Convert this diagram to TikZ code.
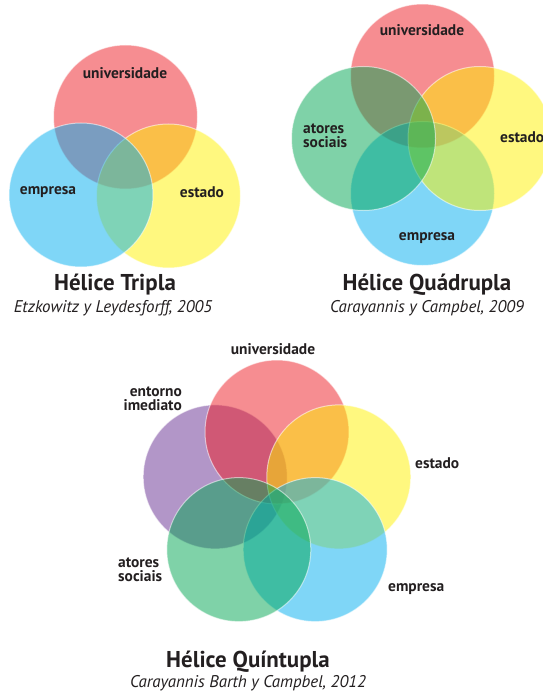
\documentclass[tikz,border=0pt]{standalone}
\usepackage{fontspec}
\setmainfont{PT Sans}
\definecolor{cred}{HTML}{ED1C24}
\definecolor{cyel}{HTML}{FFF200}
\definecolor{cblu}{HTML}{00AEEF}
\definecolor{cgrn}{HTML}{00A651}
\definecolor{cpur}{HTML}{662D91}
\definecolor{txt}{HTML}{231F20}
\tikzset{
  circ/.style={circle, minimum size=144bp, inner sep=0pt, fill=#1, fill opacity=0.5,
    draw=white, draw opacity=0.55, line width=1bp},
  lab/.style={inner sep=0pt, text=txt, font=\bfseries\fontsize{15.5}{14.5}\selectfont},
  ttl/.style={inner sep=0pt, text=txt, font=\bfseries\fontsize{23}{24}\selectfont},
  cit/.style={inner sep=0pt, text=txt, font=\itshape\fontsize{17}{18}\selectfont},
}
\begin{document}
\begin{tikzpicture}[x=1bp,y=-1bp]
\useasboundingbox (0,0) rectangle (543,695);
\clip (0,0) rectangle (543,695);
% Triple helix
\node[circ=cred] (tR) at (125.5,117) {};
\node[circ=cyel] (tY) at (168.5,196) {};
\node[circ=cblu] (tB) at (81,195) {};
\node[lab] (tRl) at (125,73) {universidade};
\node[lab] (tBl) at (48,192) {empresa};
\node[lab] (tYl) at (202,192) {estado};
\node[ttl] (tT) at (115,285) {Hélice Tripla};
\node[cit] (tC) at (113,308) {Etzkowitz y Leydesforff, 2005};
% Quadruple helix
\node[circ=cred] (qR) at (422.5,76) {};
\node[circ=cblu] (qB) at (422.5,193.5) {};
\node[circ=cyel] (qY) at (480,138.5) {};
\node[circ=cgrn] (qG) at (363.5,138.5) {};
\node[lab] (qRl) at (422,30) {universidade};
\node[lab, anchor=west, align=left] (qGl) at (303,136) {atores\\sociais};
\node[lab, anchor=west] (qYl) at (500,137) {estado};
\node[lab] (qBl) at (427,238) {empresa};
\node[ttl] (qT) at (427,285) {Hélice Quádrupla};
\node[cit] (qC) at (427,308) {Carayannis y Campbel, 2009};
% Quintuple helix
\node[circ=cpur] (pP) at (215.2,476.9) {};
\node[circ=cred] (pR) at (277,432) {};
\node[circ=cyel] (pY) at (338.8,476.9) {};
\node[circ=cblu] (pB) at (315.2,549.6) {};
\node[circ=cgrn] (pG) at (238.8,549.6) {};
\node[lab] (pRl) at (273,349) {universidade};
\node[lab, anchor=east, align=right] (pPl) at (182,399) {entorno\\imediato};
\node[lab, anchor=west] (pYl) at (415,463) {estado};
\node[lab, anchor=west, align=left] (pGl) at (118,569.5) {atores\\sociais};
\node[lab, anchor=west] (pBl) at (388,589) {empresa};
\node[ttl] (pT) at (248,662) {Hélice Quíntupla};
\node[cit] (pC) at (248,683) {Carayannis Barth y Campbel, 2012};
\end{tikzpicture}
\end{document}
